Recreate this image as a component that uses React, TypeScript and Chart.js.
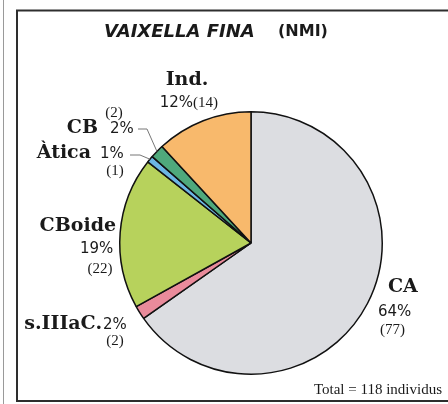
import React, { useEffect, useRef } from "react";
import { Chart, registerables } from "chart.js";

Chart.register(...registerables);

const categories = ["CA", "s.IIIaC.", "CBoide", "Àtica", "CB", "Ind."];
const counts = [77, 2, 22, 1, 2, 14];
const percents = ["64%", "2%", "19%", "1%", "2%", "12%"];
const colors = ["#dcdde1", "#e98b9b", "#b7d25c", "#6cb6e4", "#4fa97c", "#f8b96c"];
const title = "VAIXELLA FINA";
const titleSuffix = "(NMI)";
const totalLabel = "Total = 118 individus";

const W = 448;
const H = 404;

const SERIF = "'Liberation Serif', 'DejaVu Serif', serif";
const NAMEF = "'DejaVu Serif', 'Liberation Serif', serif";
const SANS = "'DejaVu Sans', Verdana, sans-serif";

// label layout (positions only)
type Lay = {
  name: [number, number, CanvasTextAlign];
  pct: [number, number, CanvasTextAlign];
  cnt: [number, number, CanvasTextAlign];
  leader?: [number, number, number];
};
const layout: Lay[] = [
  { name: [388, 287, "left"], pct: [378, 312, "left"], cnt: [380, 330, "left"] },
  { name: [102, 324, "right"], pct: [103, 325, "left"], cnt: [115, 341, "center"] },
  { name: [116, 226, "right"], pct: [80, 249, "left"], cnt: [100, 269, "center"] },
  { name: [91, 153, "right"], pct: [100, 154, "left"], cnt: [115, 171, "center"], leader: [130, 140, 155] },
  { name: [98, 128, "right"], pct: [110, 129, "left"], cnt: [114, 113, "center"], leader: [138, 147, 129] },
  { name: [187, 80, "center"], pct: [193, 103, "right"], cnt: [193, 103, "left"] },
];

const decorPlugin = {
  id: "decor",
  beforeDraw(chart: any) {
    const ctx = chart.ctx;
    ctx.save();
    ctx.fillStyle = "#ffffff";
    ctx.fillRect(0, 0, W, H);
    ctx.strokeStyle = "#9a9a9a";
    ctx.lineWidth = 1;
    ctx.beginPath();
    ctx.moveTo(3.5, 0);
    ctx.lineTo(3.5, H);
    ctx.stroke();
    ctx.strokeStyle = "#2e2e2e";
    ctx.lineWidth = 2;
    ctx.beginPath();
    ctx.moveTo(W + 2, 10.5);
    ctx.lineTo(17, 10.5);
    ctx.lineTo(17, 401);
    ctx.lineTo(W + 2, 401);
    ctx.stroke();
    ctx.restore();
  },
  afterDraw(chart: any) {
    const ctx = chart.ctx;
    const meta = chart.getDatasetMeta(0);
    ctx.save();
    ctx.textBaseline = "middle";
    ctx.fillStyle = "#1a1a1a";
    // title
    ctx.font = `italic bold 18px ${SANS}`;
    ctx.textAlign = "left";
    ctx.fillText(title, 104, 32);
    ctx.font = `bold 16px ${SANS}`;
    ctx.fillText(titleSuffix, 278, 32);

    categories.forEach((c, i) => {
      const l = layout[i];
      ctx.fillStyle = "#1a1a1a";
      ctx.font = `bold 19px ${NAMEF}`;
      ctx.textAlign = l.name[2];
      ctx.fillText(c, l.name[0], l.name[1]);
      ctx.font = `15px ${SANS}`;
      ctx.textAlign = l.pct[2];
      ctx.fillText(percents[i], l.pct[0], l.pct[1]);
      ctx.font = `15px ${SERIF}`;
      ctx.textAlign = l.cnt[2];
      ctx.fillText(`(${counts[i]})`, l.cnt[0], l.cnt[1]);
      if (l.leader) {
        const arc = meta.data[i];
        const mid = (arc.startAngle + arc.endAngle) / 2;
        const ex = arc.x + Math.cos(mid) * arc.outerRadius;
        const ey = arc.y + Math.sin(mid) * arc.outerRadius;
        ctx.strokeStyle = "#777";
        ctx.lineWidth = 1;
        ctx.beginPath();
        ctx.moveTo(l.leader[0], l.leader[2]);
        ctx.lineTo(l.leader[1], l.leader[2]);
        ctx.lineTo(ex, ey);
        ctx.stroke();
      }
    });

    ctx.fillStyle = "#1a1a1a";
    ctx.font = `15px ${SERIF}`;
    ctx.textAlign = "right";
    ctx.fillText(totalLabel, 442, 390);
    ctx.restore();
  },
};

export default function App() {
  const ref = useRef<HTMLCanvasElement | null>(null);
  useEffect(() => {
    document.body.style.margin = "0";
    const chart = new Chart(ref.current as HTMLCanvasElement, {
      type: "pie",
      data: {
        labels: categories,
        datasets: [
          {
            data: counts,
            backgroundColor: colors,
            borderColor: "#111111",
            borderWidth: 1.5,
          },
        ],
      },
      options: {
        animation: false,
        responsive: false,
        layout: { padding: { left: 119, right: 65, top: 111, bottom: 29 } },
        plugins: {
          legend: { display: false },
          tooltip: { enabled: false },
          title: { display: false },
        },
      },
      plugins: [decorPlugin],
    });
    return () => chart.destroy();
  }, []);
  return (
    <div style={{ width: W, height: H }}>
      <canvas ref={ref} width={W} height={H} style={{ width: W, height: H, display: "block" }} />
    </div>
  );
}
